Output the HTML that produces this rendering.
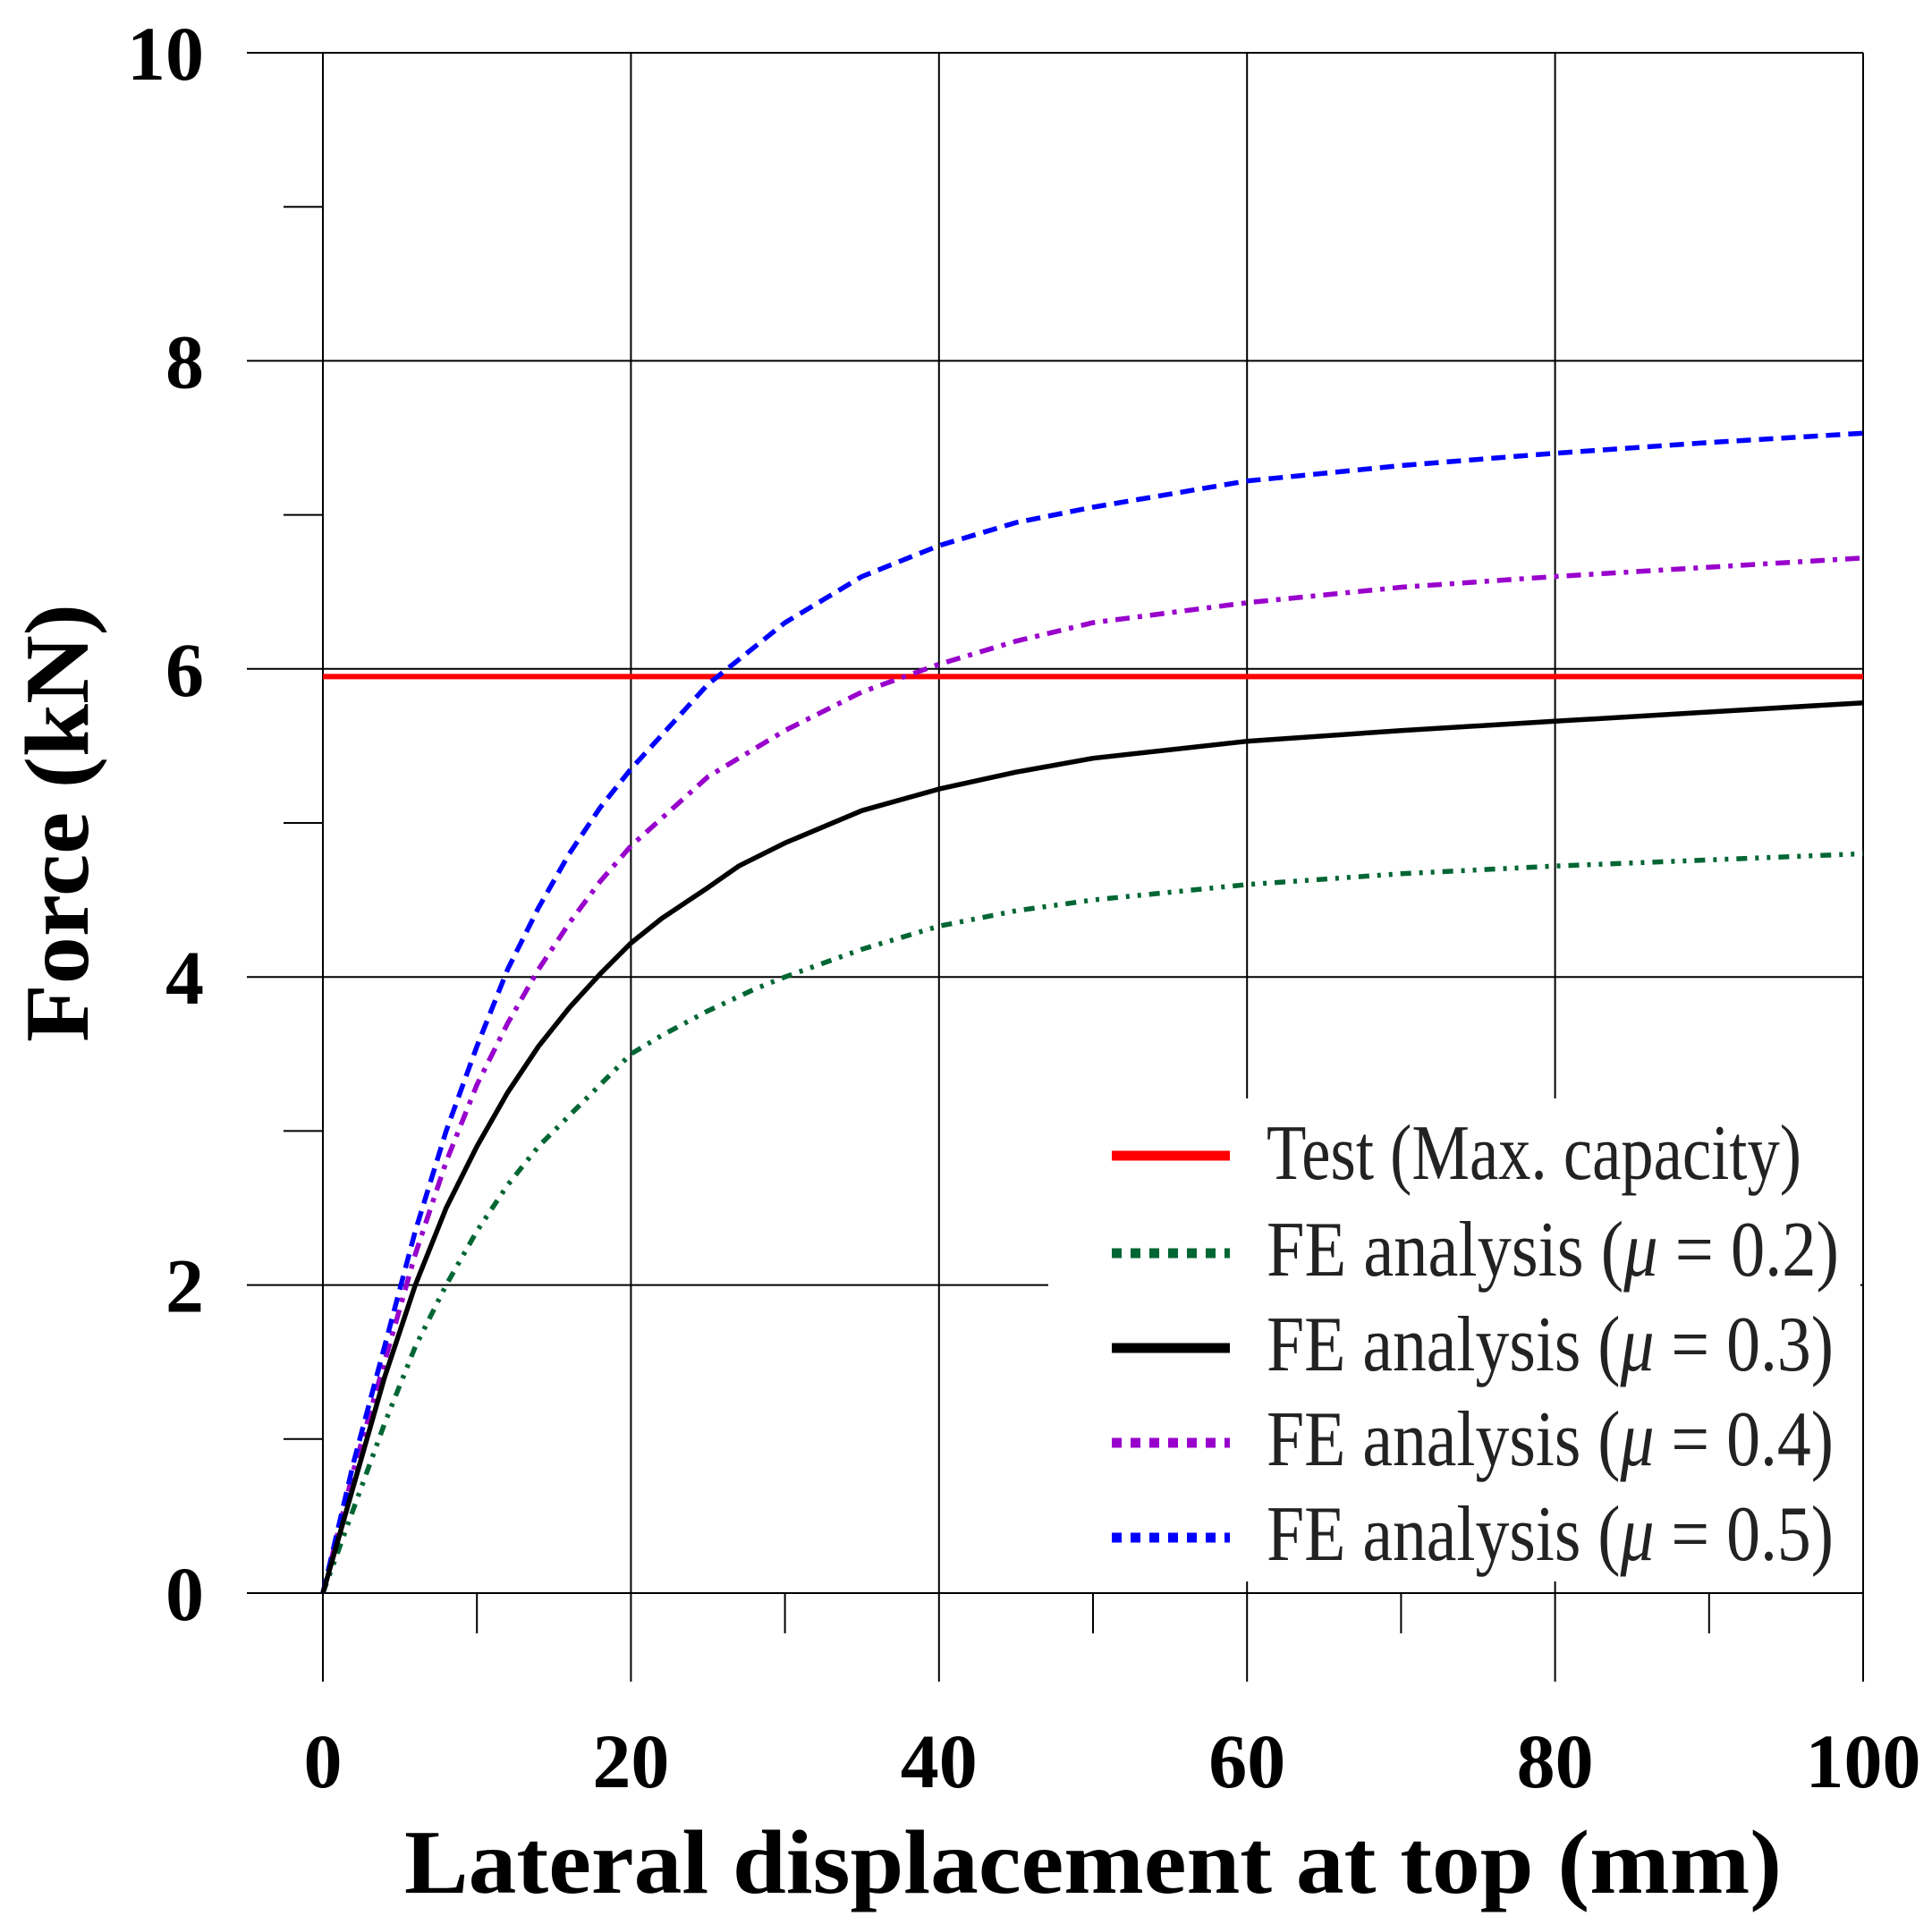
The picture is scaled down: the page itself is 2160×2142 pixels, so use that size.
<!DOCTYPE html>
<html><head><meta charset="utf-8"><style>
html,body{margin:0;padding:0;background:#fff;}
svg{display:block;}
</style></head><body>
<svg id="chart" width="2160" height="2142" viewBox="0 0 2160 2142" xmlns="http://www.w3.org/2000/svg">
<g id="grid"></g>
<g id="series"></g>
<g id="legend">
  <rect x="1172" y="1228" width="908" height="540" fill="#fff"/>
  <line x1="1243" y1="1292" x2="1375" y2="1292" stroke="#ff0000" stroke-width="11"/>
  <line x1="1243" y1="1401" x2="1375" y2="1401" stroke="#006633" stroke-width="11" stroke-dasharray="11 10"/>
  <line x1="1243" y1="1507" x2="1375" y2="1507" stroke="#000" stroke-width="11"/>
  <line x1="1243" y1="1613" x2="1375" y2="1613" stroke="#9900cc" stroke-width="11" stroke-dasharray="11 10"/>
  <line x1="1243" y1="1719" x2="1375" y2="1719" stroke="#0000ff" stroke-width="11" stroke-dasharray="11 10"/>
  <g font-family="'Liberation Serif', serif" font-size="88" fill="#222">
    <text x="1416" y="1318" textLength="598" lengthAdjust="spacingAndGlyphs">Test (Max. capacity)</text>
    <text x="1416" y="1426" textLength="640" lengthAdjust="spacingAndGlyphs">FE analysis (<tspan font-style="italic">μ</tspan> = 0.2)</text>
    <text x="1416" y="1532" textLength="634" lengthAdjust="spacingAndGlyphs">FE analysis (<tspan font-style="italic">μ</tspan> = 0.3)</text>
    <text x="1416" y="1638" textLength="634" lengthAdjust="spacingAndGlyphs">FE analysis (<tspan font-style="italic">μ</tspan> = 0.4)</text>
    <text x="1416" y="1744" textLength="634" lengthAdjust="spacingAndGlyphs">FE analysis (<tspan font-style="italic">μ</tspan> = 0.5)</text>
  </g>
</g>
<g id="labels" font-family="'Liberation Serif', serif" font-weight="bold" fill="#000"></g>
<text x="1222" y="2116" text-anchor="middle" font-family="'Liberation Serif', serif" font-weight="bold" font-size="102" textLength="1540" lengthAdjust="spacingAndGlyphs">Lateral displacement at top (mm)</text>
<text transform="translate(98,920) rotate(-90)" text-anchor="middle" font-family="'Liberation Serif', serif" font-weight="bold" font-size="102" textLength="490" lengthAdjust="spacingAndGlyphs">Force (kN)</text>
</svg>
<script>
const xTicks = [0, 20, 40, 60, 80, 100];
const xMinor = [10, 30, 50, 70, 90];
const yTicks = [0, 2, 4, 6, 8, 10];
const yMinor = [1, 3, 5, 7, 9];
const testCapacity = 5.95;
const xMu02 = [0,2,4,6,8,10,12,14,16,18,20,22,25,28,30,35,40,45,50,60,70,80,90,100];
const yMu02 = [0,0.55,1.1,1.6,2.0,2.35,2.65,2.9,3.1,3.3,3.5,3.62,3.78,3.92,4.0,4.18,4.33,4.43,4.5,4.6,4.67,4.72,4.76,4.8];
const xMu03 = [0,2,4,6,8,10,12,14,16,18,20,22,25,27,30,35,40,45,50,60,70,80,90,100];
const yMu03 = [0,0.7,1.4,2.0,2.5,2.9,3.25,3.55,3.8,4.02,4.22,4.38,4.58,4.72,4.87,5.08,5.22,5.33,5.42,5.53,5.6,5.66,5.72,5.78];
const xMu04 = [0,2,4,6,8,10,12,14,16,18,20,25,30,35,40,45,50,60,70,80,90,100];
const yMu04 = [0,0.8,1.5,2.2,2.8,3.3,3.7,4.05,4.35,4.62,4.85,5.3,5.6,5.85,6.03,6.18,6.3,6.43,6.53,6.6,6.66,6.72];
const xMu05 = [0,2,4,6,8,10,12,14,16,18,20,25,30,35,40,45,50,60,70,80,90,100];
const yMu05 = [0,0.85,1.6,2.35,3.0,3.55,4.05,4.45,4.8,5.1,5.35,5.9,6.3,6.6,6.8,6.95,7.05,7.22,7.32,7.4,7.47,7.53];

const NS = 'http://www.w3.org/2000/svg';
const X0 = 361, X1 = 2083, Y0 = 1781, Y1 = 59;
const sx = v => X0 + (v - 0) / 100 * (X1 - X0);
const sy = v => Y0 - (v - 0) / 10 * (Y0 - Y1);
function mk(tag, attrs, parent) {
  const e = document.createElementNS(NS, tag);
  for (const k in attrs) e.setAttribute(k, attrs[k]);
  parent.appendChild(e);
  return e;
}
const grid = document.getElementById('grid');
const series = document.getElementById('series');
const labels = document.getElementById('labels');

yTicks.forEach(v => {
  const l = mk('line', {x1: 276, x2: X1, y1: sy(v), y2: sy(v), stroke: '#000', 'stroke-width': 2}, grid);
  
  
  const t = mk('text', {x: 228, y: sy(v) + 30, 'text-anchor': 'end', 'font-size': 86}, labels);
  t.textContent = v;
  
  
});
yMinor.forEach(v => {
  const l = mk('line', {x1: 317, x2: X0, y1: sy(v), y2: sy(v), stroke: '#000', 'stroke-width': 2}, grid);
  
  
});
xTicks.forEach(v => {
  const l = mk('line', {x1: sx(v), x2: sx(v), y1: Y1, y2: 1880, stroke: '#000', 'stroke-width': 2}, grid);
  
  
  const t = mk('text', {x: sx(v), y: 1998, 'text-anchor': 'middle', 'font-size': 86}, labels);
  t.textContent = v;
  
  
});
xMinor.forEach(v => {
  const l = mk('line', {x1: sx(v), x2: sx(v), y1: Y0, y2: 1826, stroke: '#000', 'stroke-width': 2}, grid);
  
  
});

const red = mk('line', {x1: sx(0), x2: sx(100), y1: sy(testCapacity), y2: sy(testCapacity), stroke: '#ff0000', 'stroke-width': 6}, series);



function curve(xs, ys, color, dash, name) {
  const d = xs.map((x, i) => (i ? 'L' : 'M') + sx(x).toFixed(1) + ' ' + sy(ys[i]).toFixed(1)).join(' ');
  const p = mk('path', {d: d, fill: 'none', stroke: color, 'stroke-width': 5.5, 'stroke-dasharray': dash, 'stroke-linejoin': 'round'}, series);
  
  
}
curve(xMu02, yMu02, '#006633', '12 9 4 9 4 9', 'curve-mu-0-2');
curve(xMu04, yMu04, '#9900cc', '16 9 5 9', 'curve-mu-0-4');
curve(xMu05, yMu05, '#0000ff', '16 9', 'curve-mu-0-5');
curve(xMu03, yMu03, '#000000', 'none', 'curve-mu-0-3');
document.getElementById('chart').appendChild(document.getElementById('legend'));
</script>
</body></html>
